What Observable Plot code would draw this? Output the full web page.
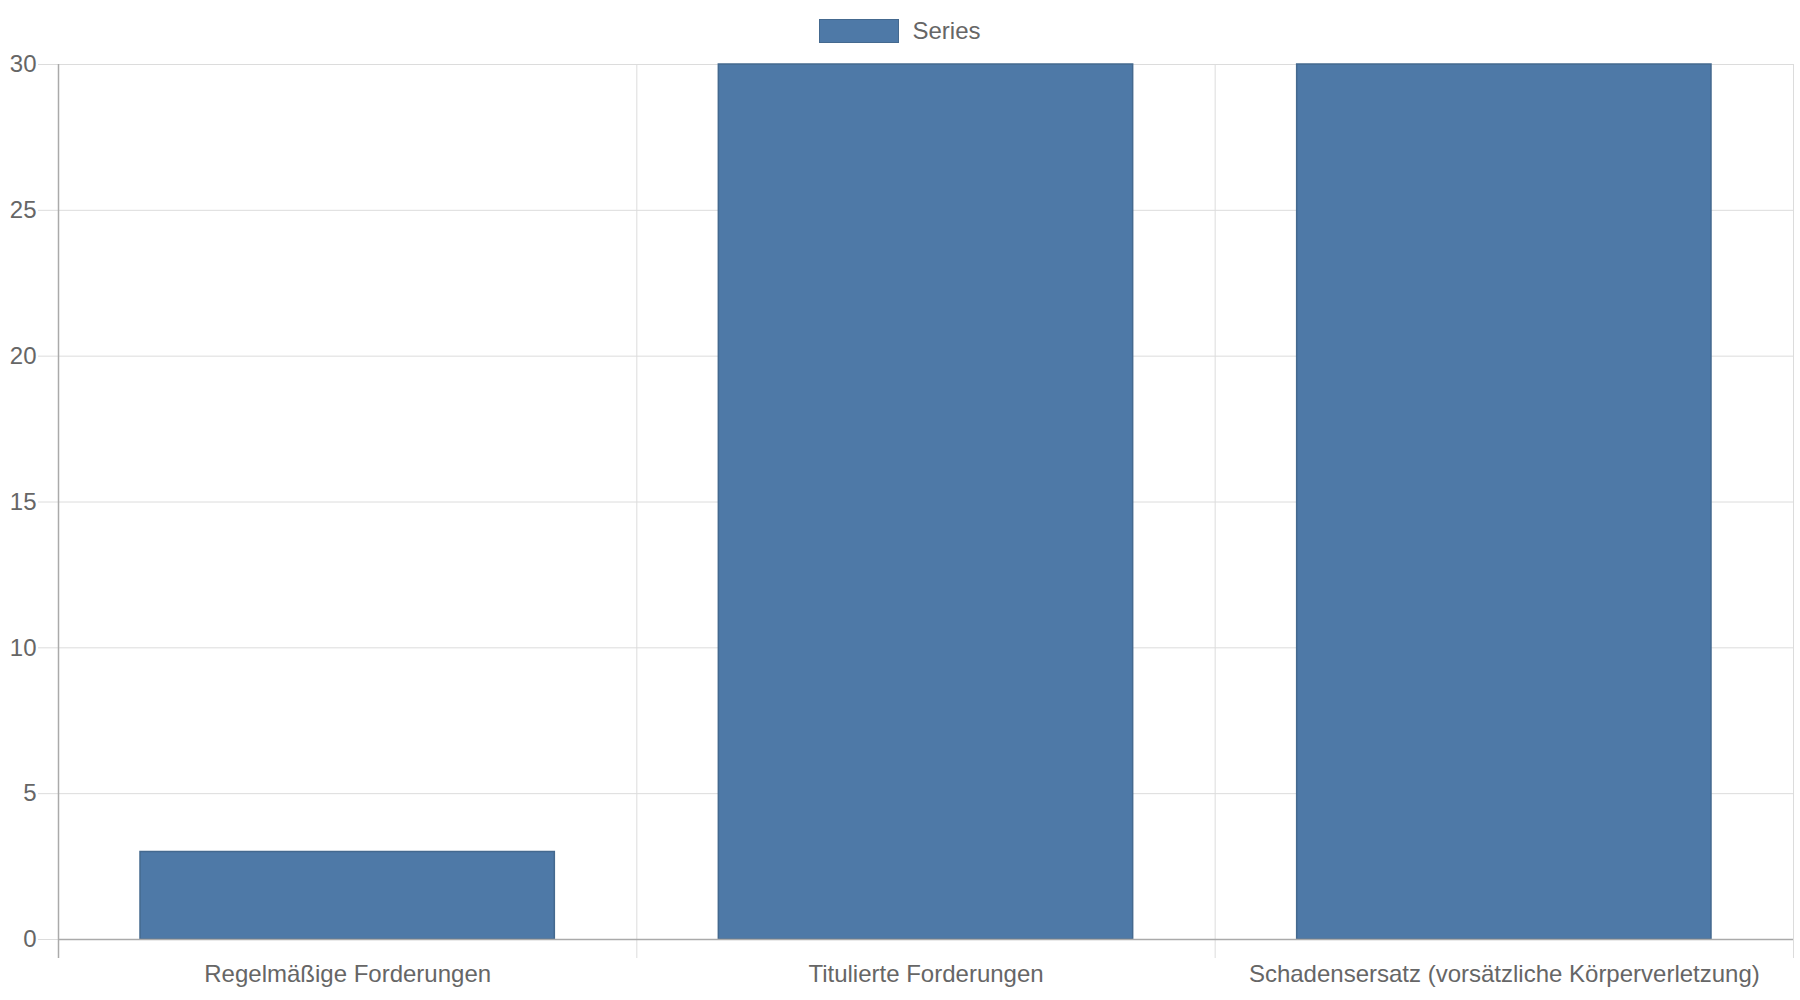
<!DOCTYPE html>
<html>
<head>
<meta charset="utf-8">
<script src="https://cdn.jsdelivr.net/npm/d3@7"></script>
<script src="https://cdn.jsdelivr.net/npm/@observablehq/plot@0.6"></script>
<style>
  html, body { margin: 0; padding: 0; background: #fff; }
  body { width: 1800px; height: 1000px; overflow: hidden; font-family: "Liberation Sans", Arial, sans-serif; }
  #legend { height: 46px; display: flex; justify-content: center; align-items: flex-start; }
  #legend .item { display: flex; align-items: center; margin-top: 19px; color: #666; font-size: 24px; line-height: 24px; }
  #legend .sw { width: 78px; height: 22px; background: #4e79a7; border: 1px solid #44698f; margin-right: 13px; }
  #chart svg { display: block; overflow: visible; }
</style>
</head>
<body>
<div id="legend"><div class="item"><span class="sw"></span><span>Series</span></div></div>
<div id="chart"></div>
<script>
const categories = ["Regelmäßige Forderungen", "Titulierte Forderungen", "Schadensersatz (vorsätzliche Körperverletzung)"];
const values = [3, 30, 30];
const yTicks = [0, 5, 10, 15, 20, 25, 30];
const seriesName = "Series";

const data = categories.map((c, i) => ({category: c, index: i, value: values[i]}));
const boundaries = d3.range(categories.length + 1);
const centers = categories.map((c, i) => i + 0.5);

const grid = "#dcdcdc";
const axisColor = "#aaaaaa";
const textColor = "#666666";

const chart = Plot.plot({
  width: 1800,
  height: 954,
  marginTop: 18,
  marginBottom: 61,
  marginLeft: 58,
  marginRight: 7,
  style: {fontFamily: "'Liberation Sans', Arial, sans-serif", fontSize: "24px", color: textColor, background: "#fff"},
  x: {type: "linear", domain: [0, categories.length], axis: null, label: null},
  y: {domain: [0, 30], axis: null, label: null},
  marks: [
    Plot.ruleY(yTicks, {stroke: grid}),
    Plot.ruleX(boundaries, {y1: 0, y2: 30, stroke: grid}),
    Plot.axisX({ticks: boundaries, tickSize: 19, stroke: grid, label: null, tickFormat: () => ""}),
    Plot.axisX({ticks: centers, tickSize: 0, tickPadding: 25, fill: textColor, label: null, tickFormat: v => categories[Math.floor(v)]}),
    Plot.axisY({ticks: yTicks, tickSize: 20, tickPadding: 2, stroke: grid, fill: textColor, label: null, tickFormat: d => String(d)}),
    Plot.rectY(data, {x1: "index", x2: d => d.index + 1, y: "value", insetLeft: 82, insetRight: 82, fill: "#4e79a7", stroke: "#44698f", strokeWidth: 1.5}),
    Plot.ruleY([0], {stroke: axisColor, strokeWidth: 1.5}),
    Plot.ruleX([0], {y1: 0, y2: 30, stroke: axisColor, strokeWidth: 1.5}),
    Plot.axisX({ticks: [0], tickSize: 19, stroke: axisColor, strokeWidth: 1.5, label: null, tickFormat: () => ""})
  ]
});
document.getElementById("chart").appendChild(chart);
</script>
</body>
</html>
